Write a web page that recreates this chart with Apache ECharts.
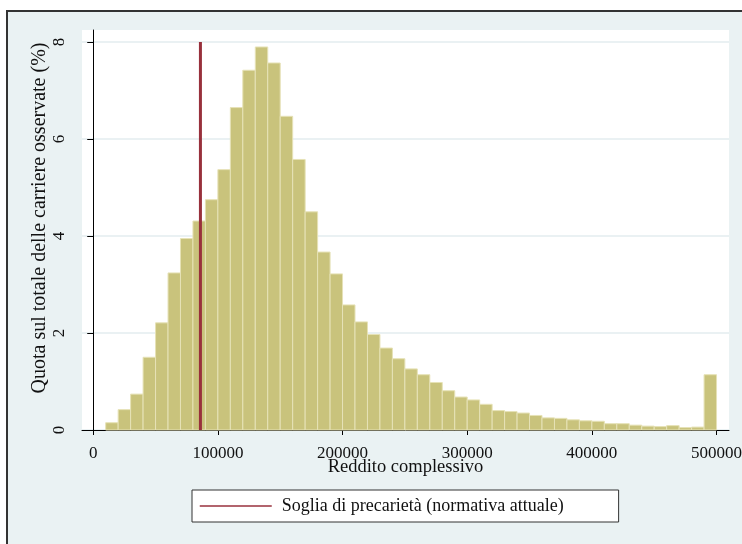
<!DOCTYPE html>
<html>
<head>
<meta charset="utf-8">
<script src="https://cdn.jsdelivr.net/npm/echarts@6/dist/echarts.min.js"></script>
<style>
html,body{margin:0;padding:0;background:#ffffff;}
#c{width:742px;height:544px;}
</style>
</head>
<body>
<div id="c"></div>
<script>
// Bin lower edges (Reddito complessivo), bin width 10000
var binStarts = [10000,20000,30000,40000,50000,60000,70000,80000,90000,100000,
  110000,120000,130000,140000,150000,160000,170000,180000,190000,200000,
  210000,220000,230000,240000,250000,260000,270000,280000,290000,300000,
  310000,320000,330000,340000,350000,360000,370000,380000,390000,400000,
  410000,420000,430000,440000,450000,460000,470000,480000,490000];
var binWidth = 10000;
// Quota sul totale delle carriere osservate (%)
var shares = [0.15,0.42,0.74,1.50,2.21,3.24,3.95,4.31,4.75,5.37,
  6.65,7.42,7.90,7.57,6.47,5.58,4.50,3.67,3.22,2.58,
  2.23,1.97,1.69,1.47,1.26,1.14,0.98,0.81,0.68,0.62,
  0.53,0.40,0.38,0.35,0.30,0.25,0.24,0.21,0.19,0.18,
  0.13,0.13,0.10,0.08,0.07,0.09,0.05,0.06,1.14];
var thresholdX = 86000;
var thresholdTop = 8;
var xTicks = [0,100000,200000,300000,400000,500000];
var yTicks = [0,2,4,6,8];
var legendName = 'Soglia di precarietà (normativa attuale)';

var FONT = 'Liberation Serif';
var chart = echarts.init(document.getElementById('c'));
var barData = binStarts.map(function(s,i){ return [s, s+binWidth, shares[i]]; });

chart.setOption({
  backgroundColor: '#ffffff',
  animation: false,
  graphic: [
    {type:'rect', z:-10, shape:{x:7,y:11,width:800,height:600},
     style:{fill:'#eaf2f3', stroke:'#333333', lineWidth:2}},
    {type:'rect', z:-9, shape:{x:82,y:30,width:647,height:400},
     style:{fill:'#ffffff'}},
    {type:'text', rotation: Math.PI/2, x: 40, y: 218,
     style:{text:'Quota sul totale delle carriere osservate (%)', font:'20px "Liberation Serif"', fill:'#111', textAlign:'center', textVerticalAlign:'middle'}}
  ],
  grid: {left:82, right:13, top:30, bottom:114, containLabel:false, outerBoundsMode:'none'},
  xAxis: {
    type:'value', min:-9000, max:510000,
    name:'Reddito complessivo', nameLocation:'middle', nameGap:28, nameMoveOverlap:false,
    nameTextStyle:{fontFamily:FONT, fontSize:18.5, color:'#111'},
    axisLine:{show:true, onZero:false, lineStyle:{color:'#000', width:1}},
    axisTick:{show:true, length:5, lineStyle:{color:'#000'}, customValues: xTicks},
    axisLabel:{fontFamily:FONT, fontSize:17, color:'#111', margin:15, customValues: xTicks,
      formatter:function(v){ return String(v); }},
    splitLine:{show:false}
  },
  yAxis: {
    type:'value', min:0, max:8.25, interval:2,
    axisLine:{show:true, lineStyle:{color:'#000', width:1}},
    axisTick:{show:true, length:6, lineStyle:{color:'#000'}, customValues: yTicks},
    axisLabel:{fontFamily:FONT, fontSize:17, color:'#111', rotate:90, margin:14, customValues: yTicks,
      formatter:function(v){ return String(v); }},
    splitLine:{show:true, lineStyle:{color:'#e3ecef', width:1.5}}
  },
  legend: {
    data:[legendName], left:192, top:490,
    backgroundColor:'#ffffff', borderColor:'#333', borderWidth:1,
    padding:[7,55,7,7], itemWidth:72, itemHeight:14,
    itemStyle:{opacity:0},
    lineStyle:{width:1.5},
    textStyle:{fontFamily:FONT, fontSize:18, color:'#111', padding:[0,0,0,5]}
  },
  series: [
    {
      type:'custom', name:'bars',
      renderItem: function(params, api){
        var p0 = api.coord([api.value(0), api.value(2)]);
        var p1 = api.coord([api.value(1), 0]);
        return {type:'rect', shape:{x:p0[0], y:p0[1], width:p1[0]-p0[0], height:p1[1]-p0[1]},
          style:{fill:'#c9c37c', stroke:'#e6e2b7', lineWidth:1}};
      },
      encode:{x:[0,1], y:2},
      data: barData, z:2
    },
    {
      type:'line', name:legendName, showSymbol:false, symbol:'none',
      data:[[thresholdX,0],[thresholdX,thresholdTop]],
      lineStyle:{color:'#98303c', width:3}, itemStyle:{color:'#98303c'}, z:5
    }
  ]
});
</script>
</body>
</html>
